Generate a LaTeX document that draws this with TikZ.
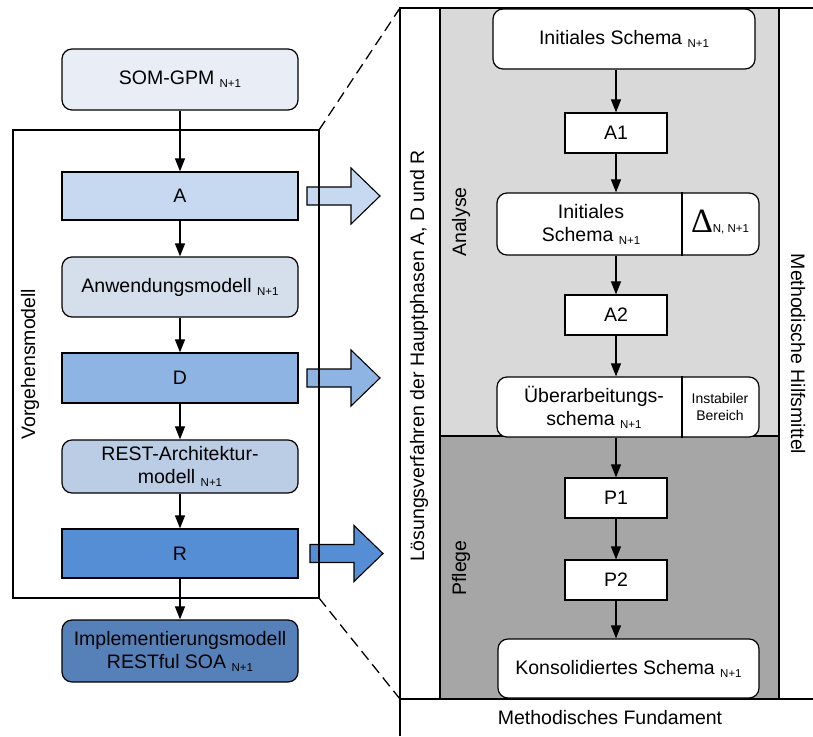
\documentclass[tikz,border=0pt]{standalone}
\usepackage{fontspec}
\setmainfont{Liberation Sans}
\newfontfamily\deltafont{Liberation Serif}
\usetikzlibrary{arrows.meta}
\newcommand\nsub[1]{\raisebox{-3pt}{\fontsize{11.5}{12}\selectfont #1}}
\definecolor{cSOM}{HTML}{E9EEF6}
\definecolor{cA}{HTML}{C6D9F1}
\definecolor{cAnw}{HTML}{D5DFEC}
\definecolor{cD}{HTML}{8EB4E3}
\definecolor{cRest}{HTML}{BACDE4}
\definecolor{cR}{HTML}{558ED5}
\definecolor{cImpl}{HTML}{5580B8}
\definecolor{cLight}{HTML}{D9D9D9}
\definecolor{cDark}{HTML}{A6A6A6}
\begin{document}
\begin{tikzpicture}[x=1pt,y=-1pt,
  font=\fontsize{19.5}{23}\selectfont,
  every node/.style={inner sep=2pt},
  box/.style={draw, line width=1.2pt, align=center},
  rbox/.style={box, rounded corners=10pt},
  lbox/.style={minimum width=236pt},
  arr/.style={line width=1.1pt, -{Triangle[length=13pt,width=10pt]}},
  frame/.style={line width=1.2pt},
  pics/barrow/.style={code={
    \draw[line width=1.1pt, fill=#1] (0,-9) -- (44,-9) -- (44,-28) -- (73,0)
      -- (44,28) -- (44,9) -- (0,9) -- cycle;}}
]
\useasboundingbox (0,0) rectangle (813,736);

% ---------- right panel backgrounds ----------
\fill[cLight] (440,8) rectangle (779,436);
\fill[cDark] (440,436) rectangle (779,699);
\draw[frame] (400,736) -- (400,8) -- (813,8);
\draw[frame] (400,699) -- (813,699);
\draw[frame] (440,8) -- (440,699);
\draw[frame] (779,8) -- (779,699);
\draw[frame] (440,436) -- (779,436);

% ---------- left column ----------
\node[rbox, lbox, fill=cSOM, minimum height=61pt] (som) at (180,79.5) {SOM-GPM \nsub{N+1}};
\node[box, lbox, fill=cA, minimum height=48pt] (A) at (180,196) {A};
\node[rbox, lbox, fill=cAnw, minimum height=60pt] (anw) at (180,287) {Anwendungsmodell \nsub{N+1}};
\node[box, lbox, fill=cD, minimum height=50pt] (D) at (180,378) {D};
\node[rbox, lbox, fill=cRest, minimum height=53pt] (rest) at (180,466.5) {REST-Architektur-\\modell \nsub{N+1}};
\node[box, lbox, fill=cR, minimum height=49pt] (R) at (180,553.5) {R};
\node[rbox, lbox, fill=cImpl, minimum height=62pt] (impl) at (180,651) {Implementierungsmodell\\RESTful SOA \nsub{N+1}};

% block arrows
\pic at (307,196) {barrow=cA};
\pic at (307,378) {barrow=cD};
\pic at (310,553.5) {barrow=cR};

% Vorgehensmodell frame
\coordinate (ftl) at (319,130);
\coordinate (fbl) at (319,598);
\draw[frame] (13,130) rectangle (319,598);
\node[rotate=90] (vm) at (30,364) {Vorgehensmodell};

\draw[arr] (som) -- (A);
\draw[arr] (A) -- (anw);
\draw[arr] (anw) -- (D);
\draw[arr] (D) -- (rest);
\draw[arr] (rest) -- (R);
\draw[arr] (R) -- (impl);

% dashed zoom lines
\coordinate (zt) at (400,8);
\coordinate (zb) at (400,699);
\draw[line width=1.3pt, dash pattern=on 11pt off 6pt] (ftl) -- (zt);
\draw[line width=1.3pt, dash pattern=on 11pt off 6pt] (fbl) -- (zb);

% ---------- right column ----------
\node[rotate=90] (lv) at (419,356) {Lösungsverfahren der Hauptphasen A, D und R};
\node[rotate=90] (ana) at (461,222) {Analyse};
\node[rotate=90] (pfl) at (461,568) {Pflege};
\node[rotate=-90] (mh) at (798,354) {Methodische Hilfsmittel};
\node (mf) at (610,718) {Methodisches Fundament};

\node[rbox, fill=white, minimum width=262pt, minimum height=60pt] (init) at (624,39) {Initiales Schema \nsub{N+1}};
\node[box, fill=white, minimum width=102pt, minimum height=40pt] (A1) at (616,133) {A1};
\node[rbox, fill=white, minimum width=262pt, minimum height=62pt] (init2) at (628,224) {};
\node[align=center] (init2t) at (591,224) {Initiales\\Schema \nsub{N+1}};
\node (delta) at (720,222) {{\deltafont\fontsize{34}{34}\selectfont Δ}{\fontsize{11.5}{12}\selectfont N, N+1}};
\draw[line width=1.2pt] (682,0 |- init2.north) -- (682,0 |- init2.south);
\node[box, fill=white, minimum width=102pt, minimum height=40pt] (A2) at (616,315) {A2};
\node[rbox, fill=white, minimum width=262pt, minimum height=60pt] (ueb) at (628,407) {};
\node[align=center] (uebt) at (594,407) {Überarbeitungs-\\schema \nsub{N+1}};
\node[align=center, font=\fontsize{14}{17}\selectfont] (instab) at (720,407) {Instabiler\\Bereich};
\draw[line width=1.2pt] (682,0 |- ueb.north) -- (682,0 |- ueb.south);
\node[box, fill=white, minimum width=102pt, minimum height=40pt] (P1) at (616,498) {P1};
\node[box, fill=white, minimum width=102pt, minimum height=40pt] (P2) at (616,580) {P2};
\node[rbox, fill=white, minimum width=261pt, minimum height=59pt] (kons) at (628.5,668.5) {Konsolidiertes Schema \nsub{N+1}};

\draw[arr] (init.south -| A1.north) -- (A1.north);
\draw[arr] (A1.south) -- (A1.south |- init2.north);
\draw[arr] (A1.south |- init2.south) -- (A2.north);
\draw[arr] (A2.south) -- (A2.south |- ueb.north);
\draw[arr] (A2.south |- ueb.south) -- (P1.north);
\draw[arr] (P1) -- (P2);
\draw[arr] (P2.south) -- (P2.south |- kons.north);
\end{tikzpicture}
\end{document}
